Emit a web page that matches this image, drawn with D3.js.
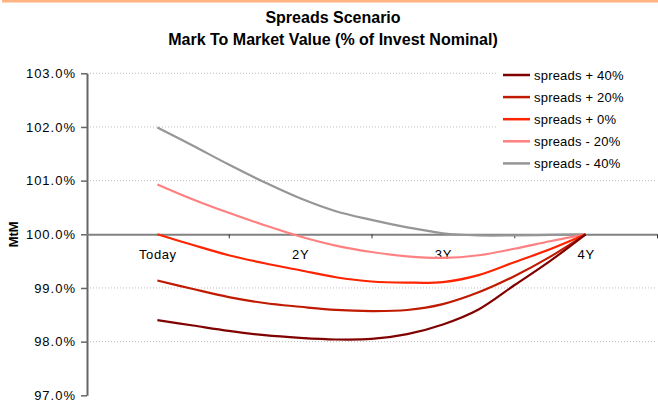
<!DOCTYPE html>
<html><head><meta charset="utf-8">
<script src="https://cdn.jsdelivr.net/npm/d3@7"></script>
<style>
html,body{margin:0;padding:0;background:#fff;}
svg text{font-family:"Liberation Sans",Arial,sans-serif;}
</style></head>
<body>
<svg id="chart" width="658" height="403"></svg>
<script>
const categories = ["Today", "2Y", "3Y", "4Y"];
// x positions of data points, in category units (Today = 1 ... 4Y = 4)
const steps = [1, 1.25, 1.5, 1.75, 2, 2.25, 2.5, 2.75, 3, 3.25, 3.5, 3.75, 4];
const seriesNames = ["spreads + 40%", "spreads + 20%", "spreads + 0%", "spreads - 20%", "spreads - 40%"];
const plus40  = [98.40, 98.30, 98.20, 98.12, 98.07, 98.04, 98.05, 98.14, 98.32, 98.60, 99.05, 99.50, 100.00];
const plus20  = [99.14, 98.98, 98.83, 98.72, 98.65, 98.59, 98.57, 98.59, 98.70, 98.92, 99.22, 99.58, 100.00];
const plus0   = [100.00, 99.80, 99.61, 99.46, 99.33, 99.20, 99.12, 99.10, 99.11, 99.24, 99.48, 99.72, 100.00];
const minus20 = [100.93, 100.65, 100.40, 100.17, 99.96, 99.79, 99.67, 99.59, 99.56, 99.61, 99.73, 99.87, 100.00];
const minus40 = [101.99, 101.65, 101.30, 100.97, 100.67, 100.43, 100.27, 100.13, 100.02, 99.98, 99.98, 99.99, 100.00];
const yTicks = [97, 98, 99, 100, 101, 102, 103];
const colors = ["#800000", "#c01a00", "#ff2400", "#ff8080", "#969696"];
const titleLines = ["Spreads Scenario", "Mark To Market Value (% of Invest Nominal)"];
const yTitle = "MtM";

const allSeries = [plus40, plus20, plus0, minus20, minus40];
const svg = d3.select("#chart");

// top orange band
svg.append("rect").attr("x", 2).attr("y", 0).attr("width", 656).attr("height", 2.5).attr("fill", "#ffb482");

const L = 87, R = 657, T = 73.3, B = 395.3;
const xBand = d3.scaleBand().domain(categories).range([L - 1, R]);
const x = d3.scaleLinear().domain([0.5, 4.5]).range([L - 1, R]);
const y = d3.scaleLinear().domain([97, 103]).range([B, T]);

// titles
svg.selectAll("text.title").data(titleLines).enter().append("text")
  .attr("class", "title").attr("x", 333).attr("y", (d, i) => 23 + i * 22)
  .attr("text-anchor", "middle").attr("font-size", 16).attr("font-weight", "bold").text(d => d);

// gridlines
svg.append("g").selectAll("line").data(yTicks.filter(v => v !== 100 && v !== 97)).enter().append("line")
  .attr("x1", L).attr("x2", R).attr("y1", d => y(d)).attr("y2", d => y(d))
  .attr("stroke", "#bdbdbd").attr("stroke-width", 1).attr("stroke-dasharray", "1,2");

// legend background
svg.append("rect").attr("x", 497).attr("y", 62).attr("width", 160).attr("height", 113).attr("fill", "#fff");

// y axis
const yAxis = d3.axisLeft(y).tickValues(yTicks).tickFormat(d => d3.format(".1f")(d) + "%").tickSizeInner(6).tickSizeOuter(0).tickPadding(5);
const gy = svg.append("g").attr("transform", `translate(${L},0)`).call(yAxis);
gy.select(".domain").attr("stroke", "#666").attr("stroke-width", 2);
gy.selectAll(".tick line").attr("stroke", "#666").attr("stroke-width", 1.5);
gy.selectAll(".tick text").attr("font-size", 13).attr("fill", "#000").attr("letter-spacing", 1)
  .attr("font-family", "Liberation Sans, Arial, sans-serif");

// x axis at 100%
const xAxis = d3.axisBottom(x).tickValues([1.5, 2.5, 3.5, 4.5]).tickFormat("").tickSizeInner(4).tickSizeOuter(0);
const gx = svg.append("g").attr("transform", `translate(0,${y(100)})`).call(xAxis);
gx.select(".domain").attr("stroke", "#808080").attr("stroke-width", 2);
gx.selectAll(".tick line").attr("stroke", "#333").attr("stroke-width", 1);
svg.append("g").selectAll("text").data(categories).enter().append("text")
  .attr("x", d => xBand(d) + xBand.bandwidth() / 2 + 0.5).attr("y", y(100) + 25)
  .attr("text-anchor", "middle").attr("font-size", 13).attr("letter-spacing", 0.6).text(d => d);

// y title
svg.append("text").attr("transform", `translate(18,${y(100)}) rotate(-90)`).attr("text-anchor", "middle")
  .attr("font-size", 13).attr("font-weight", "bold").text(yTitle);

// lines
const line = d3.line().x((d, i) => x(steps[i])).y(d => y(d)).curve(d3.curveCatmullRom.alpha(0.5));
svg.append("g").selectAll("path").data(allSeries.slice().reverse()).enter().append("path")
  .attr("d", line).attr("fill", "none")
  .attr("stroke", (d, i) => colors[colors.length - 1 - i]).attr("stroke-width", 2.2).attr("stroke-linejoin", "round");

// legend
const lg = svg.append("g").selectAll("g").data(seriesNames).enter().append("g")
  .attr("transform", (d, i) => `translate(503,${75 + i * 22.1})`);
lg.append("line").attr("x1", 0).attr("x2", 27).attr("y1", 0).attr("y2", 0)
  .attr("stroke", (d, i) => colors[i]).attr("stroke-width", 2.5);
lg.append("text").attr("x", 31).attr("y", 4.5).attr("font-size", 13).attr("letter-spacing", 0.2).text(d => d);
</script>
</body></html>
